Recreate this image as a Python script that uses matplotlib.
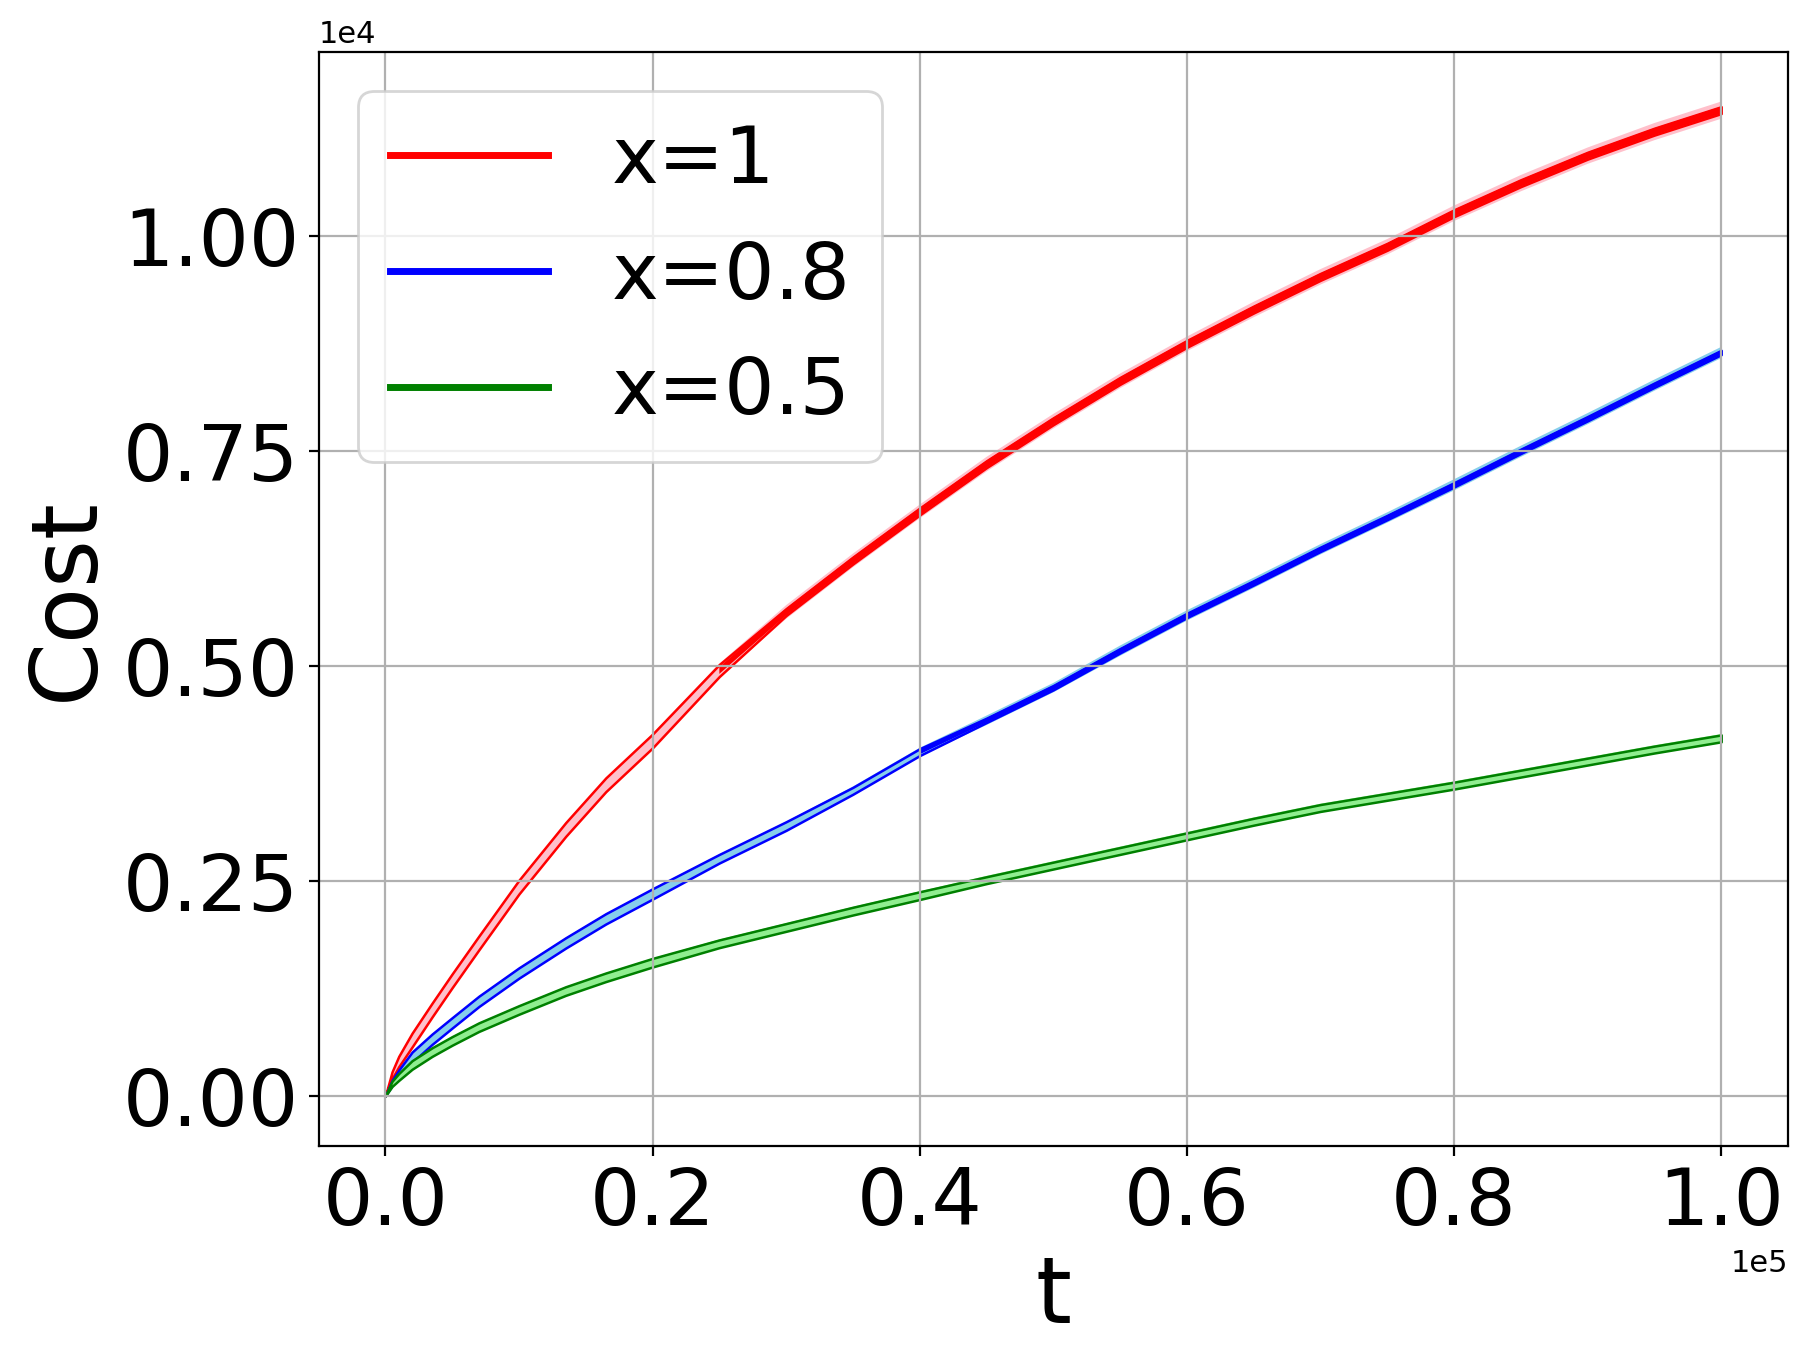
import numpy as np
import matplotlib
matplotlib.use('Agg')
import matplotlib.pyplot as plt

# time steps (x 1e5) and mean cost (x 1e4)
t_pts = [0.0, 0.005, 0.01, 0.02, 0.035, 0.05, 0.07, 0.1, 0.135, 0.165, 0.2, 0.25,
         0.3, 0.35, 0.4, 0.45, 0.5, 0.55, 0.6, 0.65, 0.7, 0.75, 0.8, 0.85, 0.9,
         0.95, 1.0]
cost_x1 = [0.0, 0.024, 0.04, 0.065, 0.1, 0.134, 0.178, 0.243, 0.31, 0.362, 0.413,
           0.495, 0.563, 0.623, 0.68, 0.735, 0.785, 0.832, 0.875, 0.915, 0.953,
           0.988, 1.027, 1.062, 1.094, 1.122, 1.147]
cost_x08 = [0.0, 0.015, 0.026, 0.045, 0.066, 0.085, 0.11, 0.143, 0.178, 0.206, 0.235,
            0.276, 0.314, 0.355, 0.4, 0.437, 0.475, 0.518, 0.559, 0.597, 0.636,
            0.673, 0.711, 0.75, 0.788, 0.827, 0.865]
cost_x05 = [0.0, 0.014, 0.022, 0.036, 0.051, 0.064, 0.08, 0.1, 0.122, 0.138, 0.155,
            0.177, 0.196, 0.215, 0.233, 0.251, 0.268, 0.285, 0.302, 0.319, 0.335,
            0.348, 0.361, 0.375, 0.389, 0.403, 0.416]

# spread of the runs (x 1e4): inner band has coloured edges, outer band is a light halo
inner_x1 = [0.0, 0.004, 0.006, 0.008, 0.008, 0.008, 0.008, 0.008, 0.008, 0.008, 0.008,
            0.007, 0.004, 0.004, 0.004, 0.004, 0.004, 0.004, 0.004, 0.004,
            0.004, 0.004, 0.004, 0.004, 0.004, 0.004, 0.004]
outer_x1 = [0.0, 0.004, 0.006, 0.008, 0.008, 0.008, 0.008, 0.008, 0.008, 0.008, 0.008,
            0.008, 0.008, 0.008, 0.008, 0.0085, 0.0085, 0.0085, 0.0085, 0.009, 0.009,
            0.009, 0.009, 0.0095, 0.0095, 0.01, 0.01]
inner_x08 = [0.0, 0.003, 0.004, 0.006, 0.006, 0.006, 0.006, 0.006, 0.006, 0.006, 0.006,
             0.005, 0.005, 0.004, 0.004, 0.0025, 0.0025, 0.0025, 0.0025, 0.0025, 0.0025,
             0.0025, 0.0025, 0.0025, 0.0025, 0.0025, 0.0025]
outer_x08 = [0.0, 0.003, 0.004, 0.006, 0.006, 0.006, 0.006, 0.006, 0.006, 0.006, 0.006,
             0.005, 0.005, 0.005, 0.005, 0.0055, 0.0055, 0.006, 0.006, 0.006, 0.006,
             0.006, 0.0065, 0.0065, 0.0065, 0.0065, 0.0065]
inner_x05 = [0.0, 0.003, 0.004, 0.005, 0.005, 0.005, 0.005, 0.005, 0.005, 0.005, 0.005,
             0.0045, 0.0045, 0.0045, 0.0045, 0.004, 0.004, 0.004, 0.004, 0.004, 0.004,
             0.004, 0.004, 0.004, 0.004, 0.004, 0.004]
outer_x05 = [0.0, 0.003, 0.004, 0.005, 0.005, 0.005, 0.005, 0.005, 0.005, 0.005, 0.005,
             0.005, 0.005, 0.005, 0.005, 0.005, 0.005, 0.005, 0.005, 0.005, 0.005,
             0.005, 0.005, 0.005, 0.005, 0.005, 0.005]
# where the mean line turns into a solid core, and its half width (x 1e4)
solid_from = [0.27, 0.42, None]
core_half = [0.004, 0.0025, 0.0]

colors = ['red', 'blue', 'green']
light_colors = ['pink', 'skyblue', 'lightgreen']
labels = ['x=1', 'x=0.8', 'x=0.5']
costs = [cost_x1, cost_x08, cost_x05]
inners = [inner_x1, inner_x08, inner_x05]
outers = [outer_x1, outer_x08, outer_x05]

fig = plt.figure(figsize=(9.015, 6.815), dpi=200)
ax = fig.add_axes([0.1767, 0.1595, 0.815, 0.8025])

t = np.array(t_pts) * 1e5
for i in range(3):
    c = np.array(costs[i]) * 1e4
    di = np.array(inners[i]) * 1e4
    do = np.array(outers[i]) * 1e4
    ax.fill_between(t, c - do, c + do, facecolor=light_colors[i], linewidth=0)
    ax.fill_between(t, c - di, c + di, facecolor=light_colors[i],
                    edgecolor=colors[i], linewidth=0.9)
    if solid_from[i] is not None:
        dc = core_half[i] * 1e4
        ax.fill_between(t, c - dc, c + dc, where=t >= solid_from[i] * 1e5 - 3000,
                        facecolor=colors[i], linewidth=0)
    ax.plot([], [], color=colors[i], linewidth=2.5, label=labels[i])

ax.ticklabel_format(style='sci', axis='both', scilimits=(0, 0))
ax.set_xticks([0, 20000, 40000, 60000, 80000, 100000])
ax.set_yticks([0, 2500, 5000, 7500, 10000])
ax.tick_params(labelsize=28.5)
ax.xaxis.get_offset_text().set_fontsize(11)
ax.yaxis.get_offset_text().set_fontsize(11)
ax.set_xlabel('t', fontsize=33)
ax.set_ylabel('Cost', fontsize=33)
ax.grid(True)
ax.legend(loc='upper left', fontsize=28.5, handlelength=2.0)

plt.savefig('out.png', dpi=200)
